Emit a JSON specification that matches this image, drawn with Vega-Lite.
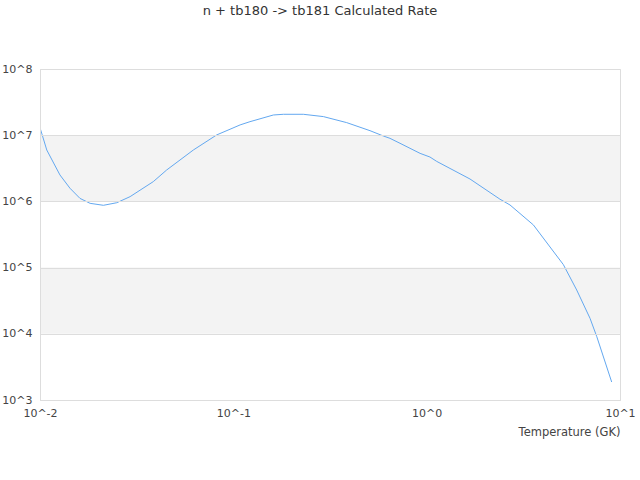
{
  "$schema": "https://vega.github.io/schema/vega-lite/v6.json",
  "width": 580,
  "height": 331,
  "autosize": {"type": "none"},
  "padding": {"left": 40, "top": 69, "right": 20, "bottom": 80},
  "background": "white",
  "config": {
    "font": "DejaVu Sans",
    "view": {"stroke": "#dddddd", "strokeWidth": 1}
  },
  "title": {
    "text": "n + tb180 -> tb181 Calculated Rate",
    "fontSize": 13,
    "fontWeight": "normal",
    "color": "#333333",
    "anchor": "middle",
    "dx": -10,
    "dy": -41
  },
  "datasets": {
    "bands": [
      {"lo": 10000, "hi": 100000},
      {"lo": 1000000, "hi": 10000000}
    ],
    "rate": [
      {"T": 0.01, "rate": 13000000},
      {"T": 0.01084, "rate": 5970000},
      {"T": 0.01268, "rate": 2510000},
      {"T": 0.01429, "rate": 1580000},
      {"T": 0.0161, "rate": 1110000},
      {"T": 0.01816, "rate": 935000},
      {"T": 0.02128, "rate": 873000},
      {"T": 0.02495, "rate": 955000},
      {"T": 0.02924, "rate": 1180000},
      {"T": 0.03855, "rate": 1990000},
      {"T": 0.04519, "rate": 2980000},
      {"T": 0.06209, "rate": 5970000},
      {"T": 0.08204, "rate": 10100000},
      {"T": 0.09616, "rate": 12300000},
      {"T": 0.1084, "rate": 14300000},
      {"T": 0.1219, "rate": 16000000},
      {"T": 0.1611, "rate": 20200000},
      {"T": 0.1816, "rate": 20700000},
      {"T": 0.2301, "rate": 20700000},
      {"T": 0.2924, "rate": 19100000},
      {"T": 0.3162, "rate": 18000000},
      {"T": 0.3855, "rate": 15500000},
      {"T": 0.5093, "rate": 11700000},
      {"T": 0.597, "rate": 9730000},
      {"T": 0.6457, "rate": 8970000},
      {"T": 0.7278, "rate": 7550000},
      {"T": 0.9247, "rate": 5320000},
      {"T": 1.04, "rate": 4680000},
      {"T": 1.127, "rate": 4020000},
      {"T": 1.675, "rate": 2180000},
      {"T": 2.393, "rate": 1080000},
      {"T": 2.698, "rate": 883000},
      {"T": 3.565, "rate": 441000},
      {"T": 5.093, "rate": 111000},
      {"T": 5.97, "rate": 45900},
      {"T": 7.0, "rate": 17100},
      {"T": 7.586, "rate": 9040},
      {"T": 9.057, "rate": 1870}
    ]
  },
  "layer": [
    {
      "data": {"name": "bands"},
      "mark": {"type": "rect", "color": "#f3f3f3"},
      "encoding": {
        "y": {
          "field": "lo",
          "type": "quantitative",
          "scale": {"type": "log", "domain": [1000, 100000000], "nice": false},
          "axis": {
            "title": null,
            "values": [1000, 10000, 100000, 1000000, 10000000, 100000000],
            "labelExpr": "'10^' + round(log(datum.value)/LN10)",
            "labelFontSize": 11,
            "labelColor": "#444444",
            "labelPadding": 8,
            "grid": true,
            "gridColor": "#dddddd",
            "ticks": false,
            "domainColor": "#dddddd",
            "zindex": 1
          }
        },
        "y2": {"field": "hi"}
      }
    },
    {
      "data": {"name": "rate"},
      "mark": {"type": "line", "color": "#63a8f0", "strokeWidth": 1, "clip": true},
      "encoding": {
        "x": {
          "field": "T",
          "type": "quantitative",
          "scale": {"type": "log", "domain": [0.01, 10], "nice": false},
          "axis": {
            "title": "Temperature (GK)",
            "titleAnchor": "end",
            "titleFontSize": 11.5,
            "titleFontWeight": "normal",
            "titleColor": "#444444",
            "titlePadding": 8,
            "values": [0.01, 0.1, 1, 10],
            "labelExpr": "'10^' + round(log(datum.value)/LN10)",
            "labelFontSize": 11,
            "labelColor": "#444444",
            "labelPadding": 7,
            "labelFlush": false,
            "grid": false,
            "ticks": false,
            "domainColor": "#dddddd"
          }
        },
        "y": {"field": "rate", "type": "quantitative"}
      }
    }
  ]
}
